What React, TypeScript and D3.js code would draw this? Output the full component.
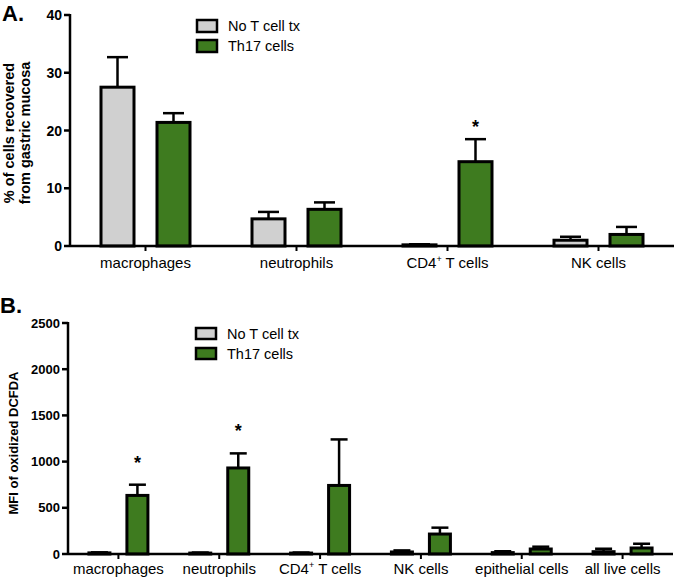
import React from "react";
import * as d3 from "d3";

const groups = ["No T cell tx", "Th17 cells"];
const colors = ["#d0d0d0", "#3e7b1f"];

const catsA = ["macrophages", "neutrophils", "CD4+ T cells", "NK cells"];
const noTA = [27.5, 4.7, 0.2, 1.0];
const noTAErr = [5.2, 1.2, 0.1, 0.6];
const th17A = [21.4, 6.35, 14.6, 2.0];
const th17AErr = [1.6, 1.2, 3.9, 1.3];
const starsA = [false, false, true, false];
const ticksA = [0, 10, 20, 30, 40];

const catsB = ["macrophages", "neutrophils", "CD4+ T cells", "NK cells", "epithelial cells", "all live cells"];
const noTB = [12, 10, 10, 22, 15, 25];
const noTBErr = [6, 6, 6, 17, 15, 32];
const th17B = [634, 931, 742, 216, 54, 65];
const th17BErr = [116, 158, 498, 69, 25, 46];
const starsB = [true, true, false, false, false, false];
const ticksB = [0, 500, 1000, 1500, 2000, 2500];

const FONT = "'Liberation Sans', Arial, sans-serif";

type PanelProps = {
  cats: string[];
  series: number[][];
  errs: number[][];
  stars: boolean[];
  ticks: number[];
  yMax: number;
  x0: number;
  x1: number;
  yTop: number;
  yBottom: number;
  barW: number;
  gap: number;
  capW: number;
  starGap: number;
  tickFont: number;
  legendX: number;
  legendY: number;
  legendBoxH: number;
  catLabelY: number;
};

function CatLabel({ text, x, y }: { text: string; x: number; y: number }) {
  if (text.startsWith("CD4+")) {
    return (
      <text x={x} y={y} textAnchor="middle" fontSize={15} fontFamily={FONT}>
        CD4<tspan fontSize={9} dy={-6}>+</tspan>
        <tspan dy={6}> T cells</tspan>
      </text>
    );
  }
  return (
    <text x={x} y={y} textAnchor="middle" fontSize={15} fontFamily={FONT}>
      {text}
    </text>
  );
}

function Panel(p: PanelProps) {
  const x = d3.scaleBand<string>().domain(p.cats).range([p.x0, p.x1]).padding(0);
  const innerW = p.barW * 2 + p.gap;
  const step = innerW - p.barW;
  const pad = 1 - p.barW / step;
  const xs = d3
    .scaleBand<string>()
    .domain(groups)
    .range([0, innerW])
    .paddingInner(pad)
    .paddingOuter(0);
  const y = d3.scaleLinear().domain([0, p.yMax]).range([p.yBottom, p.yTop]);
  const off = (x.bandwidth() - innerW) / 2;
  const bw = xs.bandwidth();
  return (
    <g>
      {p.cats.map((c, i) =>
        groups.map((g, gi) => {
          const v = p.series[gi][i];
          const e = p.errs[gi][i];
          const left = (x(c) as number) + off + (xs(g) as number);
          const cx = left + bw / 2;
          const top = y(v + e);
          return (
            <g key={c + g}>
              <line x1={cx} x2={cx} y1={y(v)} y2={top} stroke="#000" strokeWidth={2.5} />
              <line x1={cx - p.capW / 2} x2={cx + p.capW / 2} y1={top} y2={top} stroke="#000" strokeWidth={2.5} />
              <rect
                x={left + 1.5}
                y={y(v)}
                width={bw - 3}
                height={Math.max(0, p.yBottom - y(v))}
                fill={colors[gi]}
                stroke="#000"
                strokeWidth={3}
              />
              {gi === 1 && p.stars[i] ? (
                <text x={cx} y={top - p.starGap} textAnchor="middle" fontSize={18} fontWeight="bold" fontFamily={FONT}>
                  *
                </text>
              ) : null}
            </g>
          );
        })
      )}
      <line x1={p.x0} x2={p.x0} y1={p.yTop - 1} y2={p.yBottom + 1} stroke="#000" strokeWidth={2.5} />
      <line x1={p.x0} x2={p.x1} y1={p.yBottom} y2={p.yBottom} stroke="#000" strokeWidth={2.5} />
      {p.ticks.map((t) => (
        <g key={t}>
          <line x1={p.x0 - 6} x2={p.x0} y1={y(t)} y2={y(t)} stroke="#000" strokeWidth={2.5} />
          <text
            x={p.x0 - 8}
            y={y(t)}
            dy="0.36em"
            textAnchor="end"
            fontSize={p.tickFont}
            fontWeight="bold"
            fontFamily={FONT}
          >
            {t}
          </text>
        </g>
      ))}
      {p.cats.map((c) => {
        const cx = (x(c) as number) + x.bandwidth() / 2;
        return (
          <g key={c}>
            <line x1={cx} x2={cx} y1={p.yBottom} y2={p.yBottom + 5} stroke="#000" strokeWidth={2} />
            <CatLabel text={c} x={cx} y={p.catLabelY} />
          </g>
        );
      })}
      {groups.map((g, gi) => (
        <g key={g}>
          <rect
            x={p.legendX}
            y={p.legendY + gi * 20}
            width={20}
            height={p.legendBoxH}
            fill={colors[gi]}
            stroke="#000"
            strokeWidth={2.5}
          />
          <text
            x={p.legendX + 31}
            y={p.legendY + gi * 20 + p.legendBoxH / 2}
            dy="0.36em"
            fontSize={14.5}
            fontFamily={FONT}
          >
            {g}
          </text>
        </g>
      ))}
    </g>
  );
}

export default function App() {
  return (
    <svg
      width={675}
      height={579}
      style={{ position: "absolute", left: 0, top: 0, background: "#fff" }}
    >
      <rect width={675} height={579} fill="#fff" />
      <text x={2} y={21} fontSize={22} fontWeight="bold" fontFamily={FONT}>
        A.
      </text>
      <text x={0} y={313} fontSize={22} fontWeight="bold" fontFamily={FONT}>
        B.
      </text>
      <text
        transform="translate(13.5,133) rotate(-90)"
        textAnchor="middle"
        fontSize={14.5}
        fontWeight="bold"
        fontFamily={FONT}
      >
        % of cells recovered
      </text>
      <text
        transform="translate(30,133) rotate(-90)"
        textAnchor="middle"
        fontSize={14.5}
        fontWeight="bold"
        fontFamily={FONT}
      >
        from gastric mucosa
      </text>
      <text
        transform="translate(18,443) rotate(-90)"
        textAnchor="middle"
        fontSize={13}
        fontWeight="bold"
        fontFamily={FONT}
      >
        MFI of oxidized DCFDA
      </text>
      <Panel
        cats={catsA}
        series={[noTA, th17A]}
        errs={[noTAErr, th17AErr]}
        stars={starsA}
        ticks={ticksA}
        yMax={40}
        x0={70}
        x1={674}
        yTop={15}
        yBottom={246}
        barW={36}
        gap={20}
        capW={21}
        starGap={6}
        tickFont={14}
        legendX={197}
        legendY={20}
        legendBoxH={12}
        catLabelY={268}
      />
      <Panel
        cats={catsB}
        series={[noTB, th17B]}
        errs={[noTBErr, th17BErr]}
        stars={starsB}
        ticks={ticksB}
        yMax={2500}
        x0={68}
        x1={673}
        yTop={323}
        yBottom={554}
        barW={24}
        gap={14}
        capW={17}
        starGap={16}
        tickFont={13}
        legendX={196}
        legendY={328}
        legendBoxH={11}
        catLabelY={574}
      />
    </svg>
  );
}
